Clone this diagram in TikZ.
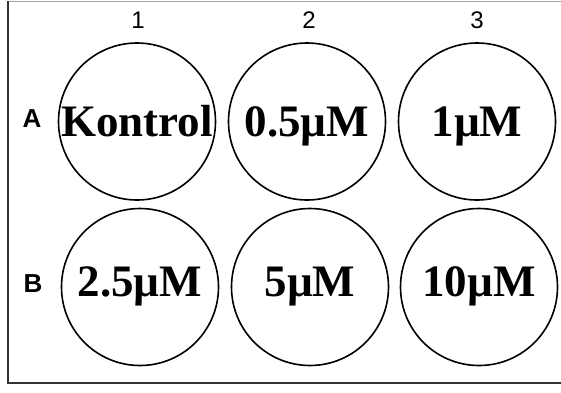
\documentclass[tikz,border=0pt]{standalone}
\usepackage{fontspec}
\setmainfont{Liberation Serif}
\newfontfamily\labfont{Liberation Sans}
\newfontfamily\labfontb{Liberation Sans Bold}
\begin{document}
\begin{tikzpicture}[x=1bp,y=-1bp,
  well/.style={draw=black,line width=1.6bp,circle,minimum size=157bp,inner sep=0pt},
  welltext/.style={font=\fontsize{45bp}{50bp}\selectfont\bfseries,inner sep=0pt,anchor=base},
  collab/.style={font=\fontsize{24bp}{26bp}\selectfont\labfont,inner sep=0pt},
  rowlab/.style={font=\fontsize{26bp}{28bp}\selectfont\labfontb,inner sep=0pt}]
\useasboundingbox (0,0) rectangle (561,392);
\draw[line width=0.8bp,gray!70] (8,1) -- (561,1);
\draw[line width=2bp,black!80] (8,1) -- (8,383) -- (561,383);
\node[well] (a1) at (137,121.5) {};
\node[well] (a2) at (307,121.5) {};
\node[well] (a3) at (477,121.5) {};
\node[well] (b1) at (140,287) {};
\node[well] (b2) at (310,287) {};
\node[well] (b3) at (479,287) {};
\node[welltext] (ta1) at ([yshift=-15bp]a1.center) {Kontrol};
\node[welltext] (ta2) at ([yshift=-15bp]a2.center) {0.5µM};
\node[welltext] (ta3) at ([yshift=-15bp]a3.center) {1µM};
\node[welltext] (tb1) at ([yshift=-9bp]b1.center) {2.5µM};
\node[welltext] (tb2) at ([yshift=-9bp]b2.center) {5µM};
\node[welltext] (tb3) at ([yshift=-9bp]b3.center) {10µM};
\node[collab] (c1) at (138,20.5) {1};
\node[collab] (c2) at (309,20.5) {2};
\node[collab] (c3) at (477,20.5) {3};
\node[rowlab] (ra) at (32,118.5) {A};
\node[rowlab] (rb) at (33,284) {B};
\end{tikzpicture}
\end{document}
